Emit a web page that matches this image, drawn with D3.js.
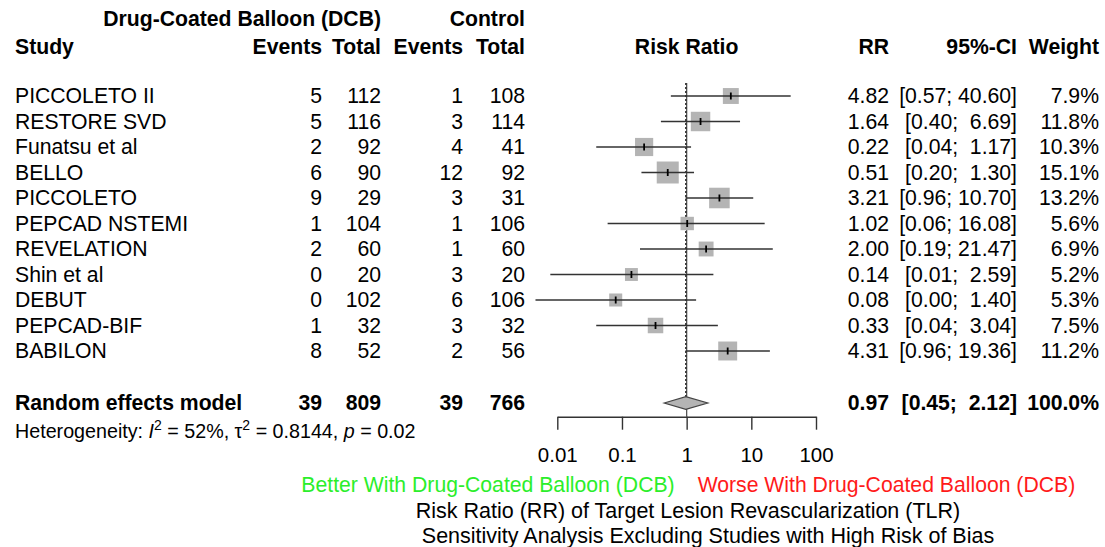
<!DOCTYPE html>
<html>
<head>
<meta charset="utf-8">
<script src="https://d3js.org/d3.v7.min.js"></script>
<style>
  body { margin: 0; background: #fff; }
  text { font-family: "Liberation Sans", Arial, Helvetica, sans-serif; fill: #000; white-space: pre; }
</style>
</head>
<body>
<svg width="1105" height="547"></svg>
<script>
// study data
studies   = ["PICCOLETO II","RESTORE SVD","Funatsu et al","BELLO","PICCOLETO","PEPCAD NSTEMI","REVELATION","Shin et al","DEBUT","PEPCAD-BIF","BABILON"];
dcbEvents = [5,5,2,6,9,1,2,0,0,1,8];
dcbTotal  = [112,116,92,90,29,104,60,20,102,32,52];
ctlEvents = [1,3,4,12,3,1,1,3,6,3,2];
ctlTotal  = [108,114,41,92,31,106,60,20,106,32,56];
rr        = [4.82,1.64,0.22,0.51,3.21,1.02,2.00,0.14,0.08,0.33,4.31];
ciLow     = [0.57,0.40,0.04,0.20,0.96,0.06,0.19,0.0078,0.0046,0.04,0.96];
ciHigh    = [40.60,6.69,1.17,1.30,10.70,16.08,21.47,2.59,1.40,3.04,19.36];
weight    = [7.9,11.8,10.3,15.1,13.2,5.6,6.9,5.2,5.3,7.5,11.2];

// random effects model
pooled = {rr: 0.97, low: 0.45, high: 2.12, dcbEvents: 39, dcbTotal: 809, ctlEvents: 39, ctlTotal: 766};
het = {i2: "52%", tau2: "0.8144", p: "0.02"};

tickValues = [0.01, 0.1, 1, 10, 100];
tickLabels = ["0.01", "0.1", "1", "10", "100"];

var FS = 21.2;
var svg = d3.select("svg");
var x = d3.scaleLog().domain([0.01, 100]).range([557.3, 816]);
var y = d3.scaleLinear().domain([0, 10]).range([96, 351]);
var ySum = y(12) + 1;
var axisY = 416.7;

function txt(xp, yp, s, anchor, bold, size) {
    return svg.append("text")
        .attr("x", xp).attr("y", yp).attr("dy", "0.35em")
        .attr("text-anchor", anchor || "start")
        .style("font-size", (size || FS) + "px")
        .style("font-weight", bold ? "bold" : "normal")
        .text(s);
}

var fmt = d3.format(".2f");
function ciText(l, h) {
    return "[" + fmt(l) + "; " + fmt(h).padStart(5, " ") + "]";
}

// column positions
var colStudy = 15, colDE = 322, colDT = 381, colCE = 463, colCT = 525;
var colRR = 889, colCI = 1017, colW = 1099;

// headers
txt(colDT, 19, "Drug-Coated Balloon (DCB)", "end", true);
txt(colCT, 19, "Control", "end", true);
txt(colStudy, 47, "Study", "start", true);
txt(colDE, 47, "Events", "end", true);
txt(colDT, 47, "Total", "end", true);
txt(colCE, 47, "Events", "end", true);
txt(colCT, 47, "Total", "end", true);
txt(x(1), 47, "Risk Ratio", "middle", true);
txt(colRR, 47, "RR", "end", true);
txt(colCI, 47, "95%-CI", "end", true);
txt(colW, 47, "Weight", "end", true);

// reference line at 1 and dashed line for the pooled estimate
svg.append("line")
    .attr("x1", x(1)).attr("x2", x(1))
    .attr("y1", 83).attr("y2", axisY)
    .attr("stroke", "#555").attr("stroke-width", 1.3);
svg.append("line")
    .attr("x1", x(pooled.rr)).attr("x2", x(pooled.rr))
    .attr("y1", 83).attr("y2", ySum - 6.3)
    .attr("stroke", "#222").attr("stroke-width", 1.3)
    .attr("stroke-dasharray", "2,2");

// study rows
studies.forEach(function(name, i) {
    var yy = y(i);
    txt(colStudy, yy, name);
    txt(colDE, yy, String(dcbEvents[i]), "end");
    txt(colDT, yy, String(dcbTotal[i]), "end");
    txt(colCE, yy, String(ctlEvents[i]), "end");
    txt(colCT, yy, String(ctlTotal[i]), "end");
    txt(colRR, yy, fmt(rr[i]), "end");
    txt(colCI, yy, ciText(ciLow[i], ciHigh[i]), "end");
    txt(colW, yy, weight[i].toFixed(1) + "%", "end");

    var side = 5.66 * Math.sqrt(weight[i]);
    svg.append("rect")
        .attr("x", x(rr[i]) - side / 2).attr("y", yy - side / 2)
        .attr("width", side).attr("height", side)
        .attr("fill", "#b4b4b4");
    svg.append("line")
        .attr("x1", x(ciLow[i])).attr("x2", x(ciHigh[i]))
        .attr("y1", yy).attr("y2", yy)
        .attr("stroke", "#333").attr("stroke-width", 1.6);
    svg.append("line")
        .attr("x1", x(rr[i])).attr("x2", x(rr[i]))
        .attr("y1", yy - 3.5).attr("y2", yy + 3.5)
        .attr("stroke", "#000").attr("stroke-width", 1.8);
});

// summary row
txt(colStudy, ySum, "Random effects model", "start", true);
txt(colDE, ySum, String(pooled.dcbEvents), "end", true);
txt(colDT, ySum, String(pooled.dcbTotal), "end", true);
txt(colCE, ySum, String(pooled.ctlEvents), "end", true);
txt(colCT, ySum, String(pooled.ctlTotal), "end", true);
txt(colRR, ySum, fmt(pooled.rr), "end", true);
txt(colCI, ySum, ciText(pooled.low, pooled.high), "end", true);
txt(colW, ySum, "100.0%", "end", true);

var dh = 6.3;
svg.append("path")
    .attr("d", "M" + x(pooled.low) + "," + ySum +
               "L" + x(pooled.rr) + "," + (ySum - dh) +
               "L" + x(pooled.high) + "," + ySum +
               "L" + x(pooled.rr) + "," + (ySum + dh) + "Z")
    .attr("fill", "#b4b4b4").attr("stroke", "#444").attr("stroke-width", 1.2);

// heterogeneity line
var ht = svg.append("text")
    .attr("x", colStudy).attr("y", 431).attr("dy", "0.35em")
    .style("font-size", "19.7px");
ht.append("tspan").text("Heterogeneity: ");
ht.append("tspan").style("font-style", "italic").text("I");
ht.append("tspan").attr("dy", -8).style("font-size", "14px").text("2");
ht.append("tspan").attr("dy", 8).text(" = " + het.i2 + ", \u03c4");
ht.append("tspan").attr("dy", -8).style("font-size", "14px").text("2");
ht.append("tspan").attr("dy", 8).text(" = " + het.tau2 + ", ");
ht.append("tspan").style("font-style", "italic").text("p");
ht.append("tspan").text(" = " + het.p);

// x axis
var axis = d3.axisBottom(x)
    .tickValues(tickValues)
    .tickFormat(function(d, i) { return tickLabels[i]; })
    .tickSize(13).tickSizeOuter(0).tickPadding(18);
var ag = svg.append("g").attr("transform", "translate(0," + axisY + ")").call(axis);
ag.attr("font-family", null).attr("font-size", null);
ag.selectAll("path, line").attr("stroke", "#333").attr("stroke-width", 1.4);
ag.selectAll("text").style("font-size", "20.5px");

// direction labels and titles
txt(x(1) - 12, 485, "Better With Drug-Coated Balloon (DCB)", "end").style("fill", "#2bee2b");
txt(x(1) + 11, 485, "Worse With Drug-Coated Balloon (DCB)", "start").style("fill", "#ff1a1a");
txt(688, 510, "Risk Ratio (RR) of Target Lesion Revascularization (TLR)", "middle", false, 21.5);
txt(708, 535, "Sensitivity Analysis Excluding Studies with High Risk of Bias", "middle", false, 21.5);
</script>
</body>
</html>
